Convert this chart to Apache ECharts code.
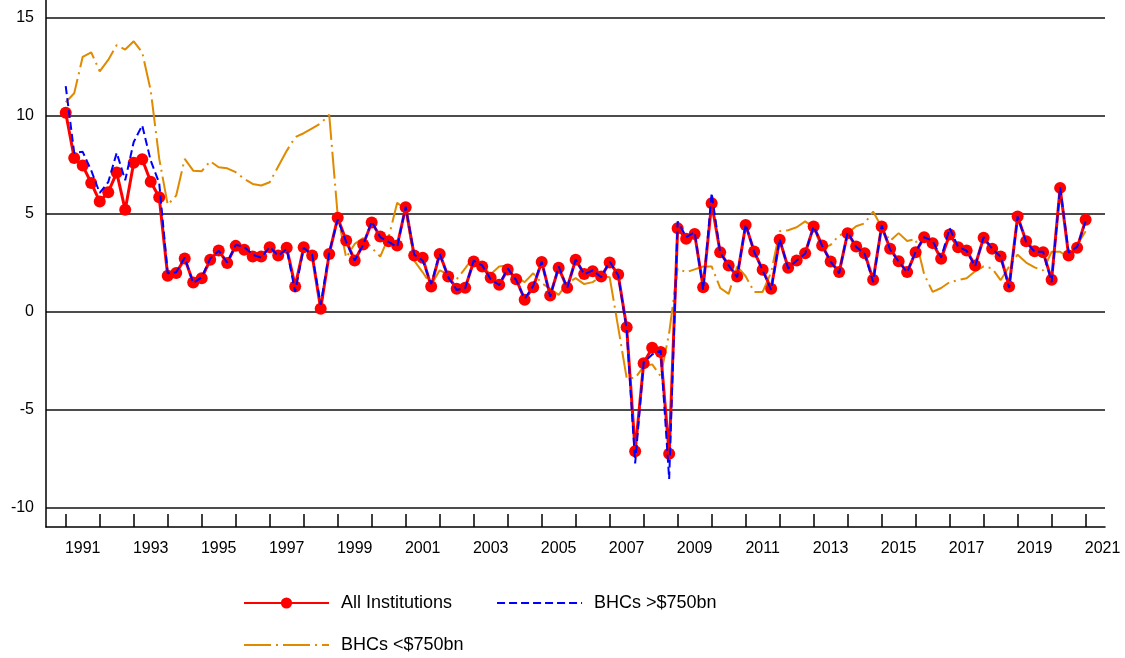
<!DOCTYPE html>
<html>
<head>
<meta charset="utf-8">
<script src="https://cdn.jsdelivr.net/npm/echarts@6/dist/echarts.min.js"></script>
<style>
  html, body { margin: 0; padding: 0; background: #fff; }
  #chart { width: 1125px; height: 658px; }
</style>
</head>
<body>
<div id="chart"></div>
<script>
//  quarterly data, 1991Q1 .. 2021Q1
const START_YEAR = 1991;

const allInstitutions = [
    10.14, 7.84, 7.45, 6.56, 5.61, 6.09, 7.09, 5.19, 7.59, 7.77, 6.62, 5.83,
    1.82, 1.97, 2.70, 1.48, 1.70, 2.64, 3.11, 2.48, 3.35, 3.15, 2.81, 2.81,
    3.28, 2.86, 3.25, 1.28, 3.28, 2.86, 0.14, 2.94, 4.78, 3.62, 2.60, 3.42,
    4.54, 3.83, 3.59, 3.37, 5.32, 2.86, 2.74, 1.28, 2.94, 1.79, 1.16, 1.21,
    2.55, 2.30, 1.72, 1.36, 2.14, 1.65, 0.60, 1.24, 2.53, 0.82, 2.23, 1.21,
    2.64, 1.92, 2.06, 1.79, 2.50, 1.89, -0.80, -7.13, -2.64, -1.85, -2.07, -7.26,
    4.25, 3.71, 3.96, 1.24, 5.53, 3.03, 2.35, 1.79, 4.42, 3.06, 2.13, 1.16,
    3.66, 2.23, 2.60, 2.97, 4.34, 3.37, 2.55, 2.01, 4.00, 3.32, 2.97, 1.62,
    4.34, 3.20, 2.57, 2.01, 3.03, 3.79, 3.49, 2.69, 3.93, 3.28, 3.11, 2.35,
    3.76, 3.20, 2.81, 1.28, 4.85, 3.59, 3.08, 3.02, 1.62, 6.31, 2.86, 3.25,
    4.68
];

const bhcsLarge = [
    11.5, 8.1, 8.15, 7.2, 6.05, 6.6, 8.1, 6.7, 8.65, 9.5, 7.7, 6.55,
    1.95, 2.0, 2.75, 1.45, 1.75, 2.7, 3.1, 2.5, 3.4, 3.3, 2.9, 2.75,
    3.3, 2.85, 3.2, 1.0, 3.25, 2.9, 0.35, 3.0, 4.7, 3.55, 2.6, 3.4,
    4.6, 3.8, 3.55, 3.3, 5.35, 2.9, 2.6, 1.4, 2.95, 1.75, 1.1, 1.2,
    2.6, 2.35, 1.65, 1.35, 2.2, 1.6, 0.65, 1.3, 2.55, 0.75, 2.3, 1.2,
    2.65, 1.9, 2.1, 1.75, 2.55, 1.85, -0.9, -7.75, -2.6, -2.2, -2.0, -8.55,
    4.6, 3.8, 4.05, 1.1, 6.05, 3.0, 2.35, 1.75, 4.45, 3.05, 2.1, 1.1,
    3.7, 2.2, 2.6, 2.95, 4.35, 3.35, 2.55, 1.95, 4.05, 3.3, 2.95, 1.5,
    4.4, 3.15, 2.55, 2.0, 3.05, 3.8, 3.6, 2.75, 4.25, 3.3, 3.1, 2.3,
    3.8, 3.2, 2.8, 1.2, 4.85, 3.55, 3.05, 3.05, 1.5, 6.35, 3.0, 3.3,
    4.6
];

const bhcsSmall = [
    10.68, 11.14, 13.0, 13.23, 12.26, 12.84, 13.6, 13.37, 13.79, 13.23, 11.28, 7.8,
    5.45, 5.92, 7.79, 7.19, 7.16, 7.67, 7.36, 7.31, 7.11, 6.77, 6.51, 6.43,
    6.6, 7.4, 8.2, 8.9, 9.1, 9.35, 9.6, 10.05, 4.9, 2.75, 3.45, 3.75,
    3.25, 2.8, 3.8, 5.55, 5.2, 2.6, 2.0, 1.35, 2.1, 1.9, 1.65, 2.2,
    2.8, 2.3, 1.9, 2.3, 2.35, 1.75, 1.5, 1.95, 1.45, 1.16, 0.85, 1.45,
    1.7, 1.4, 1.5, 1.8, 1.75, -0.8, -3.4, -3.4, -2.8, -2.7, -3.3, -1.1,
    2.2, 2.0, 2.15, 2.3, 2.3, 1.2, 0.9, 2.3, 1.8, 1.0, 1.0, 2.0,
    4.1, 4.15, 4.3, 4.6, 4.3, 3.2, 3.4, 3.9, 4.0, 4.35, 4.5, 5.1,
    4.3, 3.6, 4.0, 3.6, 3.7, 1.9, 1.0, 1.2, 1.5, 1.6, 1.7, 2.05,
    2.3, 2.2, 1.6, 2.3, 2.9, 2.5, 2.25, 2.1, 3.05, 3.05, 2.75, 3.4,
    4.1
];

//  axis ticks / labels
const yTicks = [-10, -5, 0, 5, 10, 15];
const yearTicks = [];
for (let y = 1991; y <= 2021; y++) yearTicks.push(y);
const yearLabels = yearTicks.filter(function (y) { return (y - 1991) % 2 === 0; });

//  quarter -> decimal year
function toPairs(values) {
    return values.map(function (v, i) {
        return [START_YEAR + i / 4, v];
    });
}

const FONT = 'Liberation Sans, Arial, sans-serif';
const legendText = {fontSize: 18, color: '#000', fontFamily: FONT, padding: [0, 0, 0, 7]};

const myChart = echarts.init(document.getElementById('chart'));
myChart.setOption({
    animation: false,
    backgroundColor: '#fff',
    grid: {left: 46, right: 20, top: 0, bottom: 131},
    legend: [{
        left: 243,
        top: 594,
        padding: 0,
        itemWidth: 85,
        itemHeight: 14,
        itemGap: 44,
        data: ['All Institutions', {name: 'BHCs >$750bn', itemStyle: {opacity: 0}}],
        textStyle: legendText,
    }, {
        left: 243,
        top: 636,
        padding: 0,
        itemWidth: 85,
        itemHeight: 14,
        data: [{name: 'BHCs <$750bn', itemStyle: {opacity: 0}}],
        textStyle: legendText,
    }],
    xAxis: {
        type: 'value',
        min: 1990.42,
        max: 2021.57,
        axisLine: {onZero: false, lineStyle: {color: '#000', width: 1.5}},
        axisTick: {
            show: true,
            inside: true,
            length: 13,
            customValues: yearTicks,
            lineStyle: {color: '#000', width: 1.5},
        },
        axisLabel: {
            customValues: yearLabels.map(function (y) { return y + 0.5; }),
            formatter: function (v) { return String(Math.floor(v)); },
            fontSize: 16,
            color: '#000',
            fontFamily: FONT,
            margin: 14,
        },
        splitLine: {show: false},
    },
    yAxis: {
        type: 'value',
        min: -11,
        max: 15.9,
        axisLine: {show: true, lineStyle: {color: '#000', width: 1.5}},
        axisTick: {show: false, customValues: yTicks},
        axisLabel: {
            customValues: yTicks,
            fontSize: 16,
            color: '#000',
            fontFamily: FONT,
            margin: 12,
        },
        splitLine: {show: true, lineStyle: {color: '#111', width: 1.5}},
    },
    series: [{
        name: 'All Institutions',
        type: 'line',
        data: toPairs(allInstitutions),
        color: '#FF0000',
        symbol: 'circle',
        symbolSize: 12,
        showAllSymbol: true,
        lineStyle: {width: 3, color: '#FF0000'},
        itemStyle: {color: '#FF0000'},
        z: 3,
    }, {
        name: 'BHCs >$750bn',
        type: 'line',
        data: toPairs(bhcsLarge),
        color: '#0000FF',
        symbol: 'none',
        lineStyle: {width: 2, color: '#0000FF', type: [8, 4]},
        z: 4,
    }, {
        name: 'BHCs <$750bn',
        type: 'line',
        data: toPairs(bhcsSmall),
        color: '#E08A00',
        symbol: 'none',
        lineStyle: {width: 2, color: '#E08A00', type: [27, 5, 2, 5]},
        z: 2,
    }],
});
</script>
</body>
</html>
